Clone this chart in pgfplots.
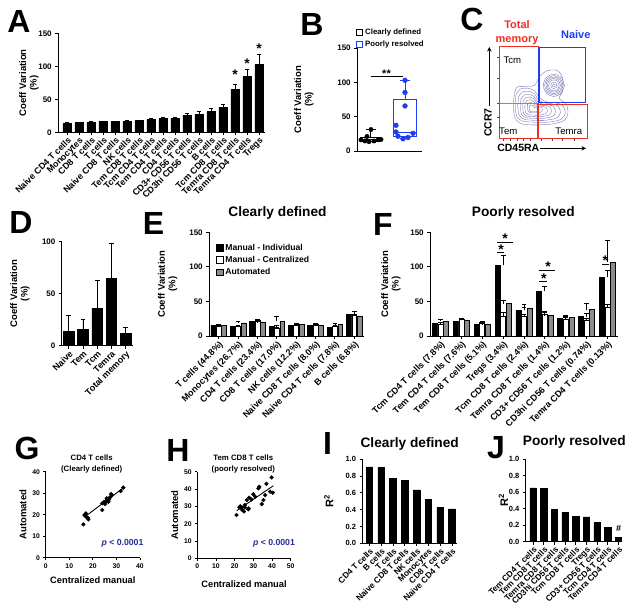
\documentclass[border=0pt]{standalone}
\usepackage{fontspec}
\setmainfont{Liberation Sans}
\usepackage{pgfplots}
\pgfplotsset{compat=1.18}
\usepgfplotslibrary{statistics}
\usetikzlibrary{arrows.meta}
\definecolor{gpblue}{RGB}{30,60,240}
\definecolor{gpred}{RGB}{238,45,35}
\definecolor{gpgray}{RGB}{140,140,140}
\definecolor{ctr}{RGB}{95,95,165}
\definecolor{pblue}{RGB}{35,45,150}
\newcommand{\fs}[1]{\fontsize{#1}{#1}\selectfont}
\pgfplotsset{
  gp/.style={
    scale only axis, clip=false,
    axis x line*=bottom, axis y line*=left,
    axis line style={line width=0.9pt, black},
    tick align=outside, major tick length=2.8pt,
    tick style={black, line width=0.9pt},
    tick label style={font=\bfseries\fs{8}},
    /pgf/number format/assume math mode=true,
    ymin=0,
    ylabel style={font=\bfseries\fontsize{9.5}{10.5}\selectfont, align=center, anchor=south},
    error bars/error bar style={line width=0.8pt, black},
    error bars/error mark=-,
    error bars/error mark options={rotate=90, line width=0.8pt, mark size=2.4pt, black},
  },
  rot/.style={xticklabel style={rotate=45, anchor=north east, inner sep=1pt, font=\bfseries\fs{#1}}},
  bk/.style={ybar, bar width=#1, fill=black, draw=black, line width=0.6pt},
}
\begin{document}
\begin{tikzpicture}
\path[use as bounding box] (0pt,0pt) rectangle (631pt,-607pt);

% ---------------- panel letters ----------------
\foreach \L/\x/\y in {A/19/21.5, B/312/24, C/472/19.5, D/21/222, E/153.5/223, F/383/224, G/27/448, H/178/450, I/327.5/443, J/496/448}{
  \node[font=\bfseries\fs{32}, inner sep=0pt] at (\x pt,-\y pt) {\L};
}

% ---------------- A ----------------
\begin{axis}[gp, rot=8.9, at={(58pt,-132.3pt)}, anchor=south west,
  width=207pt, height=99pt, xmin=-0.75, xmax=16.5, ymax=150,
  ytick={0,50,100,150}, xtick={0,...,16},
  xticklabels={Naive CD4 T cells, Monocytes, CD8 T cells, T cells, Naive CD8 T cells, NK cells, Tem CD8 T cells, Tcm CD4 T cells, Tem CD4 T cells, CD4 T cells, CD3+ CD56 T cells, CD3hi CD56 T cells, B cells, Tcm CD8 T cells, Temra CD8 T cells, Temra CD4 T cells, Tregs},
  ylabel={Coeff Variation\\(\%)}, ylabel style={at={(axis description cs:-0.077,0.5)}}]
\addplot[bk=8.4pt, error bars/.cd, y dir=plus, y explicit] coordinates {
 (0,13.6)+-(0,1.0) (1,14.6)+-(0,0.8) (2,14.6)+-(0,2.6) (3,16.2)+-(0,1.0)
 (4,16.2)+-(0,0.9) (5,16.7)+-(0,1.0) (6,17.7)+-(0,1.0) (7,19.7)+-(0,1.2)
 (8,21.5)+-(0,1.3) (9,21.2)+-(0,1.3) (10,25.7)+-(0,3.0) (11,27.7)+-(0,3.6)
 (12,31.3)+-(0,4.7) (13,37.4)+-(0,4.6) (14,65.6)+-(0,7.1) (15,85.3)+-(0,10.1)
 (16,103.0)+-(0,15.6)};
\node[font=\bfseries\fs{14}, anchor=base, inner sep=0pt] at (axis cs:14,79.7) {*};
\node[font=\bfseries\fs{14}, anchor=base, inner sep=0pt] at (axis cs:15,97.4) {*};
\node[font=\bfseries\fs{14}, anchor=base, inner sep=0pt] at (axis cs:16,120) {*};
\end{axis}

% ---------------- B ----------------
\begin{axis}[gp, at={(357pt,-151pt)}, anchor=south west, width=65pt, height=103pt,
  xmin=0, xmax=65, ymax=150, ytick={0,50,100,150}, xtick=\empty,
  boxplot/draw direction=y,
  ylabel={Coeff Variation\\(\%)}, ylabel style={at={(axis description cs:-0.615,0.5)}},
  legend style={draw=none, fill=none, at={(axis description cs:-0.02,1.21)}, anchor=north west,
    font=\bfseries\fs{7.8}, row sep=1pt, inner sep=0pt, cells={anchor=west}},
  legend cell align=left]
\addlegendimage{legend image code/.code={\draw[line width=0.8pt, draw=black, fill=white] (0pt,-3pt) rectangle (6.5pt,3pt);}}
\addlegendentry{Clearly defined}
\addlegendimage{legend image code/.code={\draw[line width=0.8pt, draw=gpblue, fill=white] (0pt,-3pt) rectangle (6.5pt,3pt);}}
\addlegendentry{Poorly resolved}
\addplot+[forget plot, boxplot prepared={lower whisker=13.6, lower quartile=14.6, median=16.2, upper quartile=20, upper whisker=31.3, draw position=13.5, box extend=20, whisker extend=10}, draw=black, line width=0.9pt, mark=none, fill=none] coordinates {};
\addplot+[forget plot, boxplot prepared={lower whisker=17.7, lower quartile=20.6, median=27.7, upper quartile=75.5, upper whisker=103, draw position=48, box extend=23, whisker extend=10}, draw=gpblue, line width=0.9pt, mark=none, fill=none] coordinates {};
\addplot[forget plot, only marks, mark=*, mark size=2.2pt, black] coordinates {
 (14,31.3) (4,16.2) (8,14.6) (12,13.6) (17,14.6) (21,16.2) (24,16.7) (10,21.2)};
\addplot[forget plot, only marks, mark=*, mark size=2.4pt, gpblue] coordinates {
 (48,103) (48,85.3) (48,65.6) (39,37.4) (39,27.7) (41,21.5) (46,17.7) (51,19.7) (56,25.7)};
\addplot[forget plot, black, line width=0.8pt] coordinates {(13.5,108) (46,108)};
\node[font=\bfseries\fs{11}, anchor=base, inner sep=0pt] at (axis cs:29.5,107) {**};
\end{axis}

% ---------------- C ----------------
\begin{axis}[scale only axis, at={(499.3pt,-138.7pt)}, anchor=south west, width=88pt, height=92pt,
  xmin=0, xmax=100, ymin=0, ymax=100, clip=false,
  axis x line*=bottom, axis y line*=left, axis line style={draw=none},
  tick align=outside, major tick length=2pt, tick style={black!70, line width=0.6pt},
  xtick={5,12,20,27,35,48,60,72,85}, ytick={23,39,66,88},
  xticklabels={}, yticklabels={}]
\addplot[ctr, smooth, line width=0.3pt] coordinates {(17,48) (20,56) (30,57) (40,58) (46,68) (55,74) (66,74) (72,66) (72,52) (68,44) (76,38) (78,28) (74,20) (60,16) (42,15) (26,16) (18,22) (16,35) (17,48)};
\addplot[ctr, smooth, line width=0.3pt] coordinates {(19,48) (24,54) (32,55) (40,52) (46,44) (54,40) (64,39) (72,36) (75,28) (70,21) (56,18) (40,18) (27,19) (20,24) (18,36) (19,48)};
\addplot[ctr, smooth, line width=0.3pt] coordinates {(21.9,45.6) (26.1,50.7) (32.9,51.6) (39.7,49) (44.8,42.2) (51.6,38.8) (60.1,37.9) (66.9,35.4) (69.5,28.6) (65.3,22.7) (53.3,20.1) (39.7,20.1) (28.6,21) (22.7,25.2) (21,35.4) (21.9,45.6)};
\addplot[ctr, smooth, line width=0.3pt] coordinates {(24.7,43.2) (28.2,47.4) (33.8,48.1) (39.4,46) (43.6,40.4) (49.2,37.6) (56.2,36.9) (61.8,34.8) (63.9,29.2) (60.4,24.3) (50.6,22.2) (39.4,22.2) (30.3,22.9) (25.4,26.4) (24,34.8) (24.7,43.2)};
\addplot[ctr, smooth, line width=0.3pt] coordinates {(27.1,41.2) (30,44.6) (34.6,45.2) (39.2,43.4) (42.6,38.9) (47.2,36.6) (52.9,36) (57.5,34.3) (59.2,29.7) (56.4,25.7) (48.4,24) (39.2,24) (31.8,24.6) (27.7,27.4) (26.6,34.3) (27.1,41.2)};
\addplot[ctr, smooth, line width=0.3pt] coordinates {(29.45,39.2) (31.7,41.9) (35.3,42.35) (38.9,41) (41.6,37.4) (45.2,35.6) (49.7,35.15) (53.3,33.8) (54.65,30.2) (52.4,27.05) (46.1,25.7) (38.9,25.7) (33.05,26.15) (29.9,28.4) (29,33.8) (29.45,39.2)};
\addplot[ctr, smooth, line width=0.3pt] coordinates {(31.9,37.1) (33.4,38.9) (35.9,39.2) (38.6,38.4) (40.4,36) (42.8,34.8) (45.8,34.4) (48.2,33.5) (49.1,31.2) (47.6,29) (43.4,28.2) (38.6,28.2) (34.6,28.4) (32.6,30) (32,33.6) (31.9,37.1)};
\addplot[ctr, smooth, line width=0.3pt] coordinates {(34.2,35.2) (35.2,36.4) (36.8,36.6) (38.4,36) (39.6,34.4) (41.2,33.6) (43.2,33.4) (44.8,32.8) (45.4,31.2) (44.4,29.8) (41.6,29.2) (38.4,29.2) (35.8,29.4) (34.4,30.4) (34,32.8) (34.2,35.2)};
\addplot[ctr, smooth, line width=0.3pt] coordinates {(74,58) (70.5,66.5) (62,70) (53.5,66.5) (50,58) (53.5,49.5) (62,46) (70.5,49.5) (74,58)};
\addplot[ctr, smooth, line width=0.3pt] coordinates {(72.5,58) (69.4,65.4) (62,68.5) (54.6,65.4) (51.5,58) (54.6,50.6) (62,47.5) (69.4,50.6) (72.5,58)};
\addplot[ctr, smooth, line width=0.3pt] coordinates {(71,58) (68.4,64.4) (62,67) (55.6,64.4) (53,58) (55.6,51.6) (62,49) (68.4,51.6) (71,58)};
\addplot[ctr, smooth, line width=0.3pt] coordinates {(69.5,58) (67.3,63.3) (62,65.5) (56.7,63.3) (54.5,58) (56.7,52.7) (62,50.5) (67.3,52.7) (69.5,58)};
\addplot[ctr, smooth, line width=0.3pt] coordinates {(68,58) (66.2,62.2) (62,64) (57.8,62.2) (56,58) (57.8,53.8) (62,52) (66.2,53.8) (68,58)};
\addplot[ctr, smooth, line width=0.3pt] coordinates {(65.5,58) (64.5,60.5) (62,61.5) (59.5,60.5) (58.5,58) (59.5,55.5) (62,54.5) (64.5,55.5) (65.5,58)};
\addplot[ctr, smooth, line width=0.3pt] coordinates {(63.5,58) (63.1,59.1) (62,59.5) (60.9,59.1) (60.5,58) (60.9,56.9) (62,56.5) (63.1,56.9) (63.5,58)};
% quadrant lines
\addplot[black!45, line width=0.8pt] coordinates {(43.6,0) (43.6,38)};
\addplot[black!45, line width=0.8pt] coordinates {(0,38.4) (43.6,38.4)};
% gates
\addplot[gpred, line width=1.2pt] coordinates {(0,0) (44.3,0) (44.3,100) (0,100) (0,0)};
\addplot[gpred, line width=1.2pt] coordinates {(43.9,0) (100,0) (100,37.6) (43.9,37.6) (43.9,0)};
\addplot[gpblue, line width=1.2pt] coordinates {(45.1,39) (98,39) (98,99) (45.1,99) (45.1,39)};
\end{axis}
\node[font=\bfseries\fontsize{11}{13.4}\selectfont, text=gpred, align=center] at (517pt,-32.7pt) {Total\\memory};
\node[font=\bfseries\fs{11}, text=gpblue] at (575.8pt,-35pt) {Naive};
\node[font=\fs{9.6}] at (512.3pt,-60.3pt) {Tcm};
\node[font=\fs{9.6}] at (508.3pt,-130.8pt) {Tem};
\node[font=\fs{9.6}] at (568.8pt,-131pt) {Temra};
\node[font=\bfseries\fs{10.5}, rotate=90] at (488pt,-122.5pt) {CCR7};
\node[font=\bfseries\fs{10.5}] at (518.3pt,-147.5pt) {CD45RA};
\draw[line width=0.9pt, -{Stealth[length=4.5pt,width=4.5pt]}] (489.3pt,-106pt) -- (489.3pt,-47pt);
\draw[line width=0.9pt, -{Stealth[length=4.5pt,width=4.5pt]}] (540pt,-148.3pt) -- (586pt,-148.3pt);

% ---------------- D ----------------
\begin{axis}[gp, rot=9, at={(61.7pt,-345.7pt)}, anchor=south west, width=71.7pt, height=104pt,
  xmin=-0.5, xmax=4.55, ymax=100, ytick={0,50,100}, xtick={0,...,4},
  xticklabels={Naive,Tem,Tcm,Temra,Total memory},
  ylabel={Coeff Variation\\(\%)}, ylabel style={at={(axis description cs:-0.40,0.5)}}]
\addplot[bk=10.7pt, error bars/.cd, y dir=plus, y explicit] coordinates {
 (0,13.5)+-(0,15.5) (1,15.7)+-(0,9.3) (2,36.2)+-(0,26.8) (3,64.7)+-(0,33.3) (4,12.2)+-(0,5.4)};
\end{axis}

% ---------------- E ----------------
\node[font=\bfseries\fs{13.7}] at (277.5pt,-213pt) {Clearly defined};
\begin{axis}[gp, rot=9, at={(209pt,-336pt)}, anchor=south west, width=155pt, height=103.7pt,
  xmin=-0.5, xmax=7.5, ymax=150, ytick={0,50,100,150}, xtick={0,...,7},
  xticklabels={T cells (44.8\%), Monocytes (26.7\%), CD4 T cells (23.4\%), CD8 T cells (17.0\%), NK cells (12.2\%), Naive CD8 T cells (8.0\%), Naive CD4 T cells (7.8\%), B cells (6.8\%)},
  ylabel={Coeff Variation\\(\%)}, ylabel style={at={(axis description cs:-0.181,0.5)}},
  legend style={draw=none, fill=none, at={(axis description cs:0.045,0.91)}, anchor=north west,
    font=\bfseries\fs{8.6}, row sep=0.5pt, inner sep=0pt, cells={anchor=west}},
  legend cell align=left]
\addlegendimage{legend image code/.code={\draw[line width=0.8pt, draw=black, fill=black] (0pt,-3.2pt) rectangle (6.5pt,3.2pt);}}
\addlegendentry{Manual - Individual}
\addlegendimage{legend image code/.code={\draw[line width=0.8pt, draw=black, fill=white] (0pt,-3.2pt) rectangle (6.5pt,3.2pt);}}
\addlegendentry{Manual - Centralized}
\addlegendimage{legend image code/.code={\draw[line width=0.8pt, draw=black, fill=gpgray] (0pt,-3.2pt) rectangle (6.5pt,3.2pt);}}
\addlegendentry{Automated}
\addplot[forget plot, bk=4.8pt, bar shift=-5.4pt, error bars/.cd, y dir=plus, y explicit] coordinates {
 (0,15)+-(0,1.5) (1,13.5)+-(0,1) (2,21)+-(0,1.5) (3,13.5)+-(0,2) (4,15.5)+-(0,1) (5,15)+-(0,1) (6,12.5)+-(0,1) (7,31)+-(0,5)};
\addplot[forget plot, ybar, bar width=4.8pt, bar shift=0pt, fill=white, draw=black, line width=0.6pt, error bars/.cd, y dir=plus, y explicit] coordinates {
 (0,14.5)+-(0,1.5) (1,14.5)+-(0,1) (2,22)+-(0,1.5) (3,11)+-(0,1) (4,15.5)+-(0,1) (5,17)+-(0,1) (6,14.5)+-(0,1) (7,30)+-(0,5)};
\addplot[forget plot, ybar, bar width=4.8pt, bar shift=5.4pt, fill=gpgray, draw=black, line width=0.6pt, error bars/.cd, y dir=plus, y explicit] coordinates {
 (0,15.5)+-(0,1.5) (1,19)+-(0,2.5) (2,19.5)+-(0,1.5) (3,21)+-(0,7.5) (4,17)+-(0,1.2) (5,15)+-(0,1) (6,16.5)+-(0,1.5) (7,29)+-(0,2)};
\end{axis}

% ---------------- F ----------------
\node[font=\bfseries\fs{13.7}] at (523.3pt,-213pt) {Poorly resolved};
\begin{axis}[gp, rot=9, at={(430pt,-336pt)}, anchor=south west, width=188pt, height=103.7pt,
  xmin=-0.5, xmax=8.5, ymax=150, ytick={0,50,100,150}, xtick={0,...,8},
  xticklabels={Tcm CD4 T cells (7.8\%), Tem CD4 T cells (7.6\%), Tem CD8 T cells (5.1\%), Tregs (3.4\%), Tcm CD8 T cells (2.4\%), Temra CD8 T cells (1.4\%), CD3+ CD56 T cells (1.2\%), CD3hi CD56 T cells (0.74\%), Temra CD4 T cells (0.13\%)},
  ylabel={Coeff Variation\\(\%)}, ylabel style={at={(axis description cs:-0.138,0.5)}}]
\addplot[bk=5pt, bar shift=-5.6pt, error bars/.cd, y dir=plus, y explicit] coordinates {
 (0,18.5)+-(0,1.5) (1,21)+-(0,1.5) (2,17)+-(0,1) (3,102)+-(0,15) (4,37)+-(0,5) (5,65)+-(0,7) (6,26)+-(0,2.5) (7,28)+-(0,4) (8,85)+-(0,9.5)};
\addplot[ybar, bar width=5pt, bar shift=0pt, fill=white, draw=black, line width=0.6pt, error bars/.cd, y dir=plus, y explicit] coordinates {
 (0,17)+-(0,2.5) (1,23.5)+-(0,2) (2,20.5)+-(0,1) (3,29)+-(0,5) (4,28.5)+-(0,2.5) (5,32)+-(0,4) (6,23.5)+-(0,3) (7,22.5)+-(0,2.5) (8,41)+-(0,5)};
\addplot[ybar, bar width=5pt, bar shift=5.6pt, fill=gpgray, draw=black, line width=0.6pt, error bars/.cd, y dir=plus, y explicit] coordinates {
 (0,21.5)+-(0,2) (1,22.5)+-(0,2) (2,17)+-(0,1) (3,47)+-(0,5) (4,40)+-(0,6) (5,29.5)+-(0,4.5) (6,26.5)+-(0,4) (7,38)+-(0,9) (8,107)+-(0,32)};
% significance
\addplot[black, line width=0.8pt] coordinates {(2.72,120.6) (3.05,120.6)};
\addplot[black, line width=0.8pt] coordinates {(2.72,135.6) (3.48,135.6)};
\addplot[black, line width=0.8pt] coordinates {(4.73,78.5) (5.1,78.5)};
\addplot[black, line width=0.8pt] coordinates {(4.73,95.5) (5.5,95.5)};
\addplot[black, line width=0.8pt] coordinates {(7.73,103.7) (8.08,103.7)};
\node[font=\bfseries\fs{14}, anchor=base, inner sep=0pt] at (axis cs:2.9,118.5) {*};
\node[font=\bfseries\fs{14}, anchor=base, inner sep=0pt] at (axis cs:3.1,133.5) {*};
\node[font=\bfseries\fs{14}, anchor=base, inner sep=0pt] at (axis cs:4.95,76.5) {*};
\node[font=\bfseries\fs{14}, anchor=base, inner sep=0pt] at (axis cs:5.15,93.5) {*};
\node[font=\bfseries\fs{14}, anchor=base, inner sep=0pt] at (axis cs:7.9,101.5) {*};
\end{axis}

% ---------------- G ----------------
\node[font=\bfseries\fontsize{7.8}{10.3}\selectfont, align=center] at (91.7pt,-464pt) {CD4 T cells\\(Clearly defined)};
\begin{axis}[gp, at={(45.7pt,-557.7pt)}, anchor=south west, width=94.3pt, height=86pt,
  xmin=0, xmax=40, ymax=40, xtick={0,10,20,30,40}, ytick={0,10,20,30,40},
  tick label style={font=\bfseries\fs{6.8}}, major tick length=2.2pt,
  ylabel={Automated}, ylabel style={at={(axis description cs:-0.166,0.5)}},
  xlabel={Centralized manual}, xlabel style={font=\bfseries\fs{9.3}, at={(axis description cs:0.5,-0.178)}, anchor=north}]
\addplot[only marks, mark=*, mark size=1.9pt, black] coordinates {
 (16.0,15.5) (16.4,19.8) (17.0,20.6) (17.8,18.6) (18.1,17.8) (17.1,19.1) (24.0,22.2) (24.0,25.3)
 (24.7,25.9) (25.6,26.4) (26.1,26.8) (26.9,27.1) (27.3,28.1) (27.7,29.6) (25.9,27.6) (25.2,25.0)
 (26.6,26.0) (28.1,29.1) (31.8,31.0) (32.9,32.6)};
\addplot[black, line width=0.9pt] coordinates {(16.7,19.1) (33.2,32.7)};
\end{axis}
\node[font=\bfseries\fs{8.7}, text=pblue] at (122.5pt,-543.3pt) {\textit{p} < 0.0001};

% ---------------- H ----------------
\node[font=\bfseries\fontsize{7.8}{10.3}\selectfont, align=center] at (243.3pt,-464pt) {Tem CD8 T cells\\(poorly resolved)};
\begin{axis}[gp, at={(197.3pt,-558.3pt)}, anchor=south west, width=93.4pt, height=86.6pt,
  xmin=0, xmax=50, ymax=50, xtick={0,10,...,50}, ytick={0,10,...,50},
  tick label style={font=\bfseries\fs{6.8}}, major tick length=2.2pt,
  ylabel={Automated}, ylabel style={at={(axis description cs:-0.167,0.5)}},
  xlabel={Centralized manual}, xlabel style={font=\bfseries\fs{9.3}, at={(axis description cs:0.5,-0.216)}, anchor=north}]
\addplot[only marks, mark=*, mark size=1.9pt, black] coordinates {
 (21,25) (22.5,29.4) (23,30) (24,28) (25,27) (25.5,30.8) (26.5,33.6) (27.5,28.8) (27.8,35)
 (29,34) (30,37) (31,35.6) (32.7,40.4) (33.2,41.3) (36.3,36.5) (37,43) (34.5,31.3) (35.4,33.6)
 (39.8,46.7) (40.4,37.9) (39,38.5) (25.5,29.4) (23.8,29.4) (27.3,28.3)};
\addplot[black, line width=0.9pt] coordinates {(21.1,27.5) (40.7,41.9)};
\end{axis}
\node[font=\bfseries\fs{8.7}, text=pblue] at (274pt,-543.3pt) {\textit{p} < 0.0001};

% ---------------- I ----------------
\node[font=\bfseries\fs{13.7}] at (409.7pt,-443.7pt) {Clearly defined};
\begin{axis}[gp, rot=8.4, at={(362.3pt,-543.3pt)}, anchor=south west, width=94.4pt, height=84pt,
  xmin=-0.6, xmax=7.4, ymax=1, ytick={0,0.2,0.4,0.6,0.8,1},
  yticklabel style={font=\bfseries\fs{7.5}, /pgf/number format/.cd, fixed, fixed zerofill, precision=1},
  xtick={0,...,7}, xticklabels={CD4 T cells, B cells, T cells, Naive CD8 T cells, NK cells, Monocytes, CD8 T cells, Naive CD4 T cells},
  ylabel={R\textsuperscript{2}}, ylabel style={font=\bfseries\fs{11}, at={(axis description cs:-0.268,0.5)}}]
\addplot[bk=6.7pt] coordinates {(0,0.91) (1,0.905) (2,0.775) (3,0.75) (4,0.635) (5,0.524) (6,0.425) (7,0.41)};
\end{axis}

% ---------------- J ----------------
\node[font=\bfseries\fs{13.7}] at (574.3pt,-441.7pt) {Poorly resolved};
\begin{axis}[gp, rot=8.4, at={(525.7pt,-541.7pt)}, anchor=south west, width=96pt, height=82.7pt,
  xmin=-0.7, xmax=8.3, ymax=1, ytick={0,0.2,0.4,0.6,0.8,1},
  yticklabel style={font=\bfseries\fs{7.5}, /pgf/number format/.cd, fixed, fixed zerofill, precision=1},
  xtick={0,...,8}, xticklabels={Tem CD4 T cells, Tem CD8 T cells, Temra CD8 T cells, CD3hi CD56 T cells, Tcm CD8 T cells, Tregs, CD3+ CD56 T cells, Tcm CD4 T cells, Temra CD4 T cells},
  ylabel={R\textsuperscript{2}}, ylabel style={font=\bfseries\fs{11}, at={(axis description cs:-0.146,0.5)}}]
\addplot[bk=6.5pt] coordinates {(0,0.65) (1,0.64) (2,0.395) (3,0.35) (4,0.31) (5,0.30) (6,0.23) (7,0.17) (8,0.055)};
\node[font=\bfseries\fs{9}, anchor=base, inner sep=0pt] at (axis cs:8,0.12) {\#};
\end{axis}
\end{tikzpicture}
\end{document}
